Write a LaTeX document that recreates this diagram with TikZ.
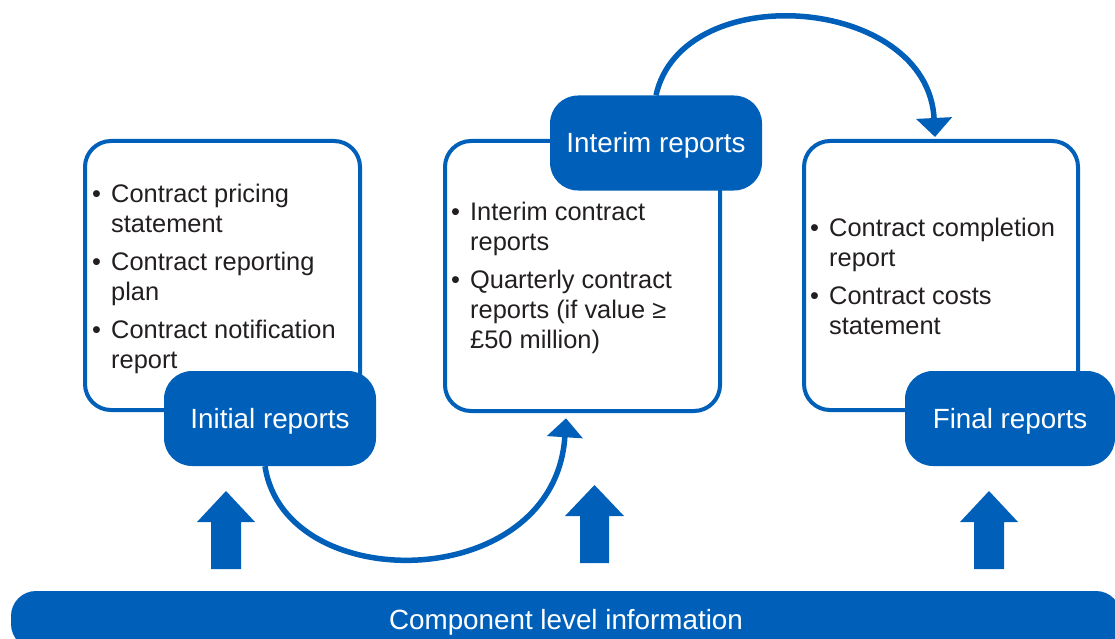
\documentclass[tikz,border=0pt]{standalone}
\usepackage{fontspec}
\setmainfont{Liberation Sans}
\usetikzlibrary{arrows.meta}
\definecolor{nblue}{RGB}{0,96,185}
\definecolor{txt}{RGB}{35,31,32}
\newcommand\bulit{\makebox[19pt][l]{•}}
\newcommand\indt{\hspace*{19pt}}
\tikzset{
  whitebox/.style={draw=nblue, line width=4pt, fill=white, rounded corners=26pt, minimum width=#1, inner sep=0pt},
  labelbox/.style={fill=nblue, text=white, rounded corners=28pt, minimum height=95pt, minimum width=#1,
    font=\fontsize{27.8}{33}\selectfont, text height=19pt, text depth=0pt, inner sep=0pt},
  bodytext/.style={anchor=north west, align=left, inner sep=0pt, text=txt, font=\fontsize{25.4}{30}\selectfont},
  curvearrow/.style={draw=nblue, line width=5.5pt, -{Triangle[length=19pt,width=35pt]}},
  blockarrow/.style={fill=nblue}
}
\begin{document}
\begin{tikzpicture}[x=1pt,y=-1pt]
\useasboundingbox (0,0) rectangle (1115,639);
\clip (0,0) rectangle (1115,639);

% white boxes
\node[whitebox=275pt, minimum height=269pt] (box1) at (222.5,275.5) {};
\node[whitebox=275pt, minimum height=270pt] (box2) at (582.5,276) {};
\node[whitebox=274pt, minimum height=269pt] (box3) at (941,275.5) {};

% body texts
\node[bodytext] (t1) at (92,181) {\strut\bulit Contract pricing\\ \indt statement\\[8pt]
  \bulit Contract reporting\\ \indt plan\\[8pt]
  \bulit Contract notification\\ \indt report};
\node[bodytext] (t2) at (451,199) {\strut\bulit Interim contract\\ \indt reports\\[8pt]
  \bulit Quarterly contract\\ \indt reports (if value ≥\\ \indt £50 million)};
\node[bodytext] (t3) at (810,215) {\strut\bulit Contract completion\\ \indt report\\[8pt]
  \bulit Contract costs\\ \indt statement};

% labels
\node[labelbox=212pt] (initial) at (270,418.5) {Initial reports};
\node[labelbox=212pt] (interim) at (656,143) {Interim reports};
\node[labelbox=210pt] (final) at (1010,418.5) {Final reports};

% curved connectors
\draw[curvearrow] ([xshift=-5pt]initial.south) .. controls +(20,132) and +(-11,176) .. ([xshift=-16.5pt,yshift=-5.25pt]box2.south);
\draw[curvearrow] (interim.north) .. controls +(26,-118) and +(-7,-142) .. ([xshift=-6pt,yshift=2pt]box3.north);

% bottom bar
\node[fill=nblue, text=white, rounded corners=25pt, minimum width=1110pt, minimum height=58pt,
  font=\fontsize{27.8}{33}\selectfont, text height=19pt, text depth=0pt, inner sep=0pt] (bar) at (566,620) {Component level information};

% block arrows
\fill[blockarrow] (211,569) -- (211,522) -- (197,522) -- (226,491) -- (255,522) -- (241,522) -- (241,569) -- cycle;
\fill[blockarrow] (580,563) -- (580,516) -- (565,516) -- (594.5,485) -- (624,516) -- (609,516) -- (609,563) -- cycle;
\fill[blockarrow] (974,569) -- (974,522) -- (960,522) -- (989,491) -- (1018,522) -- (1004,522) -- (1004,569) -- cycle;
\end{tikzpicture}
\end{document}
